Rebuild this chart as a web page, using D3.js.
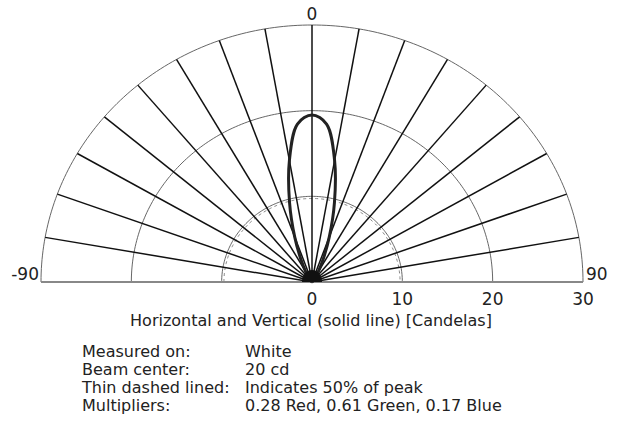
<!DOCTYPE html>
<html>
<head>
<meta charset="utf-8">
<script src="https://cdn.jsdelivr.net/npm/d3@7"></script>
<style>
  body { margin: 0; background: #fff; }
  text { font-family: "DejaVu Sans", sans-serif; fill: #222; }
</style>
</head>
<body>
<svg width="624" height="435"></svg>
<script>
// candela readings, one side only (the beam is symmetric)
const angles = [0, 5, 10, 15, 20, 25, 30, 35, 40, 50, 60, 90];
const candela = [19.5, 18.5, 14.4, 9.6, 5.6, 2.9, 1.4, 0.6, 0.25, 0.08, 0.02, 0];
const peak = 19.5;

const rings = [10, 20, 30];
const spokeAngles = d3.range(-80, 90, 10);
const radialTicks = [0, 10, 20, 30];
const angleTicks = [-90, 0, 90];

const title = "Horizontal and Vertical (solid line) [Candelas]";
const infoLabels = ["Measured on:", "Beam center:", "Thin dashed lined:", "Multipliers:"];
const infoValues = ["White", "20 cd", "Indicates 50% of peak", "0.28 Red, 0.61 Green, 0.17 Blue"];

var svg = d3.select("svg");

// horizontal/vertical scales (picture is a little squashed vertically)
var xs = d3.scaleLinear().domain([-30, 30]).range([41, 583]);
var ys = d3.scaleLinear().domain([0, 30]).range([282, 25]);
var rad = d => d * Math.PI / 180;
var px = (r, a) => xs(r * Math.sin(rad(a)));
var py = (r, a) => ys(r * Math.cos(rad(a)));

var line = d3.line().x(d => d[0]).y(d => d[1]);
var arcPts = r => d3.range(-90, 90.5, 1).map(a => [px(r, a), py(r, a)]);

// rings
svg.selectAll(".ring").data(rings).enter().append("path")
  .attr("d", r => line(arcPts(r)))
  .attr("fill", "none")
  .attr("stroke", "#555")
  .attr("stroke-width", 0.9);

// 50% of peak dashed ring
svg.append("path")
  .attr("d", line(arcPts(peak / 2)))
  .attr("fill", "none")
  .attr("stroke", "#777")
  .attr("stroke-width", 0.9)
  .attr("stroke-dasharray", "3,3");

// spokes
svg.selectAll(".spoke").data(spokeAngles).enter().append("line")
  .attr("x1", xs(0)).attr("y1", ys(0))
  .attr("x2", a => px(30, a)).attr("y2", a => py(30, a))
  .attr("stroke", "#111")
  .attr("stroke-width", 1.5);

// baseline
svg.append("line")
  .attr("x1", xs(-30)).attr("x2", xs(30))
  .attr("y1", ys(0)).attr("y2", ys(0))
  .attr("stroke", "#888")
  .attr("stroke-width", 2);

// beam lobe
var lobe = [];
for (var i = angles.length - 1; i > 0; i--) lobe.push([-angles[i], candela[i]]);
for (var j = 0; j < angles.length; j++) lobe.push([angles[j], candela[j]]);
svg.append("path")
  .attr("d", d3.line().x(d => px(d[1], d[0])).y(d => py(d[1], d[0])).curve(d3.curveCatmullRom)(lobe))
  .attr("fill", "none")
  .attr("stroke", "#222")
  .attr("stroke-width", 3);

// hub blob where the spokes meet
var hub = d3.range(-90, 90.5, 10).map(a => [xs(0) + 10 * Math.sin(rad(a)), ys(0) - 12 * Math.cos(rad(a))]);
svg.append("path")
  .attr("d", line(hub) + "Z")
  .attr("fill", "#111");

// radial tick labels
svg.selectAll(".rtick").data(radialTicks).enter().append("text")
  .attr("x", d => xs(d)).attr("y", 305)
  .attr("text-anchor", "middle")
  .attr("font-size", 17)
  .text(d => d);

// angle labels
svg.append("text").attr("x", xs(0)).attr("y", 20).attr("text-anchor", "middle").attr("font-size", 17).text(angleTicks[1]);
svg.append("text").attr("x", xs(-30) - 2).attr("y", 280).attr("text-anchor", "end").attr("font-size", 17).text(angleTicks[0]);
svg.append("text").attr("x", xs(30) + 3).attr("y", 280).attr("text-anchor", "start").attr("font-size", 17).text(angleTicks[2]);

// title
svg.append("text").attr("x", 311).attr("y", 326).attr("text-anchor", "middle").attr("font-size", 16).text(title);

// info table
infoLabels.forEach((t, i) => {
  svg.append("text").attr("x", 82).attr("y", 357 + i * 18).attr("font-size", 16).text(t);
  svg.append("text").attr("x", 245).attr("y", 357 + i * 18).attr("font-size", 16).text(infoValues[i]);
});
</script>
</body>
</html>
